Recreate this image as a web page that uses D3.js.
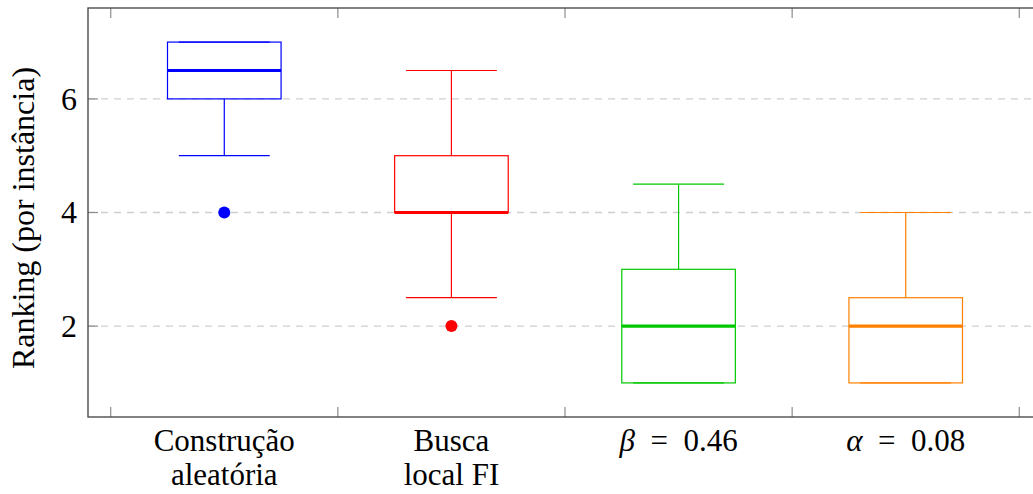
<!DOCTYPE html>
<html>
<head>
<meta charset="utf-8" />
<style>
    body {
        margin: 0;
        background: #fff;
    }

    text {
        font-family: "Liberation Serif", "Times New Roman", serif;
        fill: #000;
    }

    .grid line {
        stroke: #cfcfcf;
        stroke-width: 1.3;
        stroke-dasharray: 7, 6;
    }

    .frame {
        fill: none;
        stroke: #4d4d4d;
        stroke-width: 1.4;
    }

    .tick-mark {
        stroke: #8c8c8c;
        stroke-width: 1.2;
    }
</style>
</head>

<body>
<svg width="1033" height="494"></svg>
<script src="https://d3js.org/d3.v7.min.js"></script>
<script>

    // values
    var categories = ["Construção aleatória", "Busca local FI", "β = 0.46", "α = 0.08"];
    var labelLines = [["Construção", "aleatória"], ["Busca", "local FI"], ["β\u2002=\u20020.46"], ["α\u2002=\u20020.08"]];
    var lowerWhisker = [5, 2.5, 1, 1];
    var lowerQuartile = [6, 4, 1, 1];
    var median = [6.5, 4, 2, 2];
    var upperQuartile = [7, 5, 3, 2.5];
    var upperWhisker = [7, 6.5, 4.5, 4];
    var outliers = [[4], [2], [], []];
    var colors = ["#0000ff", "#ff0000", "#00c800", "#ff8000"];
    var yTicks = [2, 4, 6];
    var xTicks = [0.5, 1.5, 2.5, 3.5, 4.5];
    var yLabel = "Ranking (por instância)";

    var svg = d3.select("svg");
    var margin = { top: 8, left: 88, bottom: 77 };
    var height = svg.attr("height") - margin.bottom;

    var x = d3.scaleLinear()
        .domain([0.4, 4.6])
        .range([margin.left, 1042]);

    var y = d3.scaleLinear()
        .domain([0.4, 7.6])
        .range([height, margin.top]);

    var boxHalf = 0.25;    // box is half a category wide
    var capHalf = 0.2;     // whisker caps are 0.8 of the box

    var boxes = categories.map(function (c, i) {
        return {
            name: c,
            pos: i + 1,
            lw: lowerWhisker[i],
            q1: lowerQuartile[i],
            med: median[i],
            q3: upperQuartile[i],
            uw: upperWhisker[i],
            out: outliers[i],
            color: colors[i]
        };
    });

    //horizontal dashed grid
    svg.append("g")
        .attr("class", "grid")
        .selectAll("line")
        .data(yTicks)
        .enter().append("line")
        .attr("x1", x(0.4))
        .attr("x2", x(4.6))
        .attr("y1", function (d) { return y(d); })
        .attr("y2", function (d) { return y(d); });

    //one group per box
    var g = svg.selectAll(".box")
        .data(boxes)
        .enter().append("g")
        .attr("class", "box")
        .style("stroke", function (d) { return d.color; })
        .style("fill", "none");

    // whiskers
    g.append("line")
        .attr("x1", function (d) { return x(d.pos); })
        .attr("x2", function (d) { return x(d.pos); })
        .attr("y1", function (d) { return y(d.q3); })
        .attr("y2", function (d) { return y(d.uw); })
        .attr("stroke-width", 1.2);
    g.append("line")
        .attr("x1", function (d) { return x(d.pos); })
        .attr("x2", function (d) { return x(d.pos); })
        .attr("y1", function (d) { return y(d.q1); })
        .attr("y2", function (d) { return y(d.lw); })
        .attr("stroke-width", 1.2);

    // caps
    ["uw", "lw"].forEach(function (k) {
        g.append("line")
            .attr("x1", function (d) { return x(d.pos - capHalf); })
            .attr("x2", function (d) { return x(d.pos + capHalf); })
            .attr("y1", function (d) { return y(d[k]); })
            .attr("y2", function (d) { return y(d[k]); })
            .attr("stroke-width", 1.2);
    });

    // the box
    g.append("rect")
        .attr("x", function (d) { return x(d.pos - boxHalf); })
        .attr("width", function (d) { return x(d.pos + boxHalf) - x(d.pos - boxHalf); })
        .attr("y", function (d) { return y(d.q3); })
        .attr("height", function (d) { return y(d.q1) - y(d.q3); })
        .attr("stroke-width", 1.2);

    // median
    g.append("line")
        .attr("x1", function (d) { return x(d.pos - boxHalf); })
        .attr("x2", function (d) { return x(d.pos + boxHalf); })
        .attr("y1", function (d) { return y(d.med); })
        .attr("y2", function (d) { return y(d.med); })
        .attr("stroke-width", 3.2);

    // outliers
    g.selectAll("circle")
        .data(function (d) { return d.out.map(function (v) { return { pos: d.pos, v: v, color: d.color }; }); })
        .enter().append("circle")
        .attr("cx", function (d) { return x(d.pos); })
        .attr("cy", function (d) { return y(d.v); })
        .attr("r", 6)
        .style("stroke", "none")
        .style("fill", function (d) { return d.color; });

    //tick marks, inside the frame
    var ticks = svg.append("g");
    xTicks.forEach(function (t) {
        ticks.append("line").attr("class", "tick-mark")
            .attr("x1", x(t)).attr("x2", x(t))
            .attr("y1", y(0.4)).attr("y2", y(0.4) - 10);
        ticks.append("line").attr("class", "tick-mark")
            .attr("x1", x(t)).attr("x2", x(t))
            .attr("y1", y(7.6)).attr("y2", y(7.6) + 10);
    });
    yTicks.forEach(function (t) {
        ticks.append("line").attr("class", "tick-mark")
            .attr("x1", x(0.4)).attr("x2", x(0.4) + 10)
            .attr("y1", y(t)).attr("y2", y(t));
    });

    //frame
    svg.append("rect")
        .attr("class", "frame")
        .attr("x", x(0.4))
        .attr("y", y(7.6))
        .attr("width", x(4.6) - x(0.4))
        .attr("height", y(0.4) - y(7.6));

    // y tick labels
    svg.selectAll(".ylab")
        .data(yTicks)
        .enter().append("text")
        .attr("class", "ylab")
        .attr("x", 77)
        .attr("y", function (d) { return y(d); })
        .attr("dy", "0.34em")
        .attr("text-anchor", "end")
        .style("font-size", "32px")
        .text(function (d) { return d; });

    // x category labels
    var xl = svg.selectAll(".xlab")
        .data(boxes)
        .enter().append("text")
        .attr("class", "xlab")
        .attr("text-anchor", "middle")
        .style("font-size", "31px");

    xl.each(function (d, i) {
        var t = d3.select(this);
        labelLines[i].forEach(function (line, j) {
            var row = t.append("tspan")
                .attr("x", x(d.pos))
                .attr("y", 451 + j * 34);
            var m = line.match(/^([α-ω])(.*)$/);
            if (m) {
                row.append("tspan").style("font-style", "italic").text(m[1]);
                row.append("tspan").text(m[2]);
            } else {
                row.text(line);
            }
        });
    });

    //y axis label
    svg.append("text")
        .attr("transform", "rotate(-90)")
        .attr("x", -218)
        .attr("y", 34)
        .attr("text-anchor", "middle")
        .style("font-size", "32px")
        .text(yLabel);

</script>
</body>
</html>
